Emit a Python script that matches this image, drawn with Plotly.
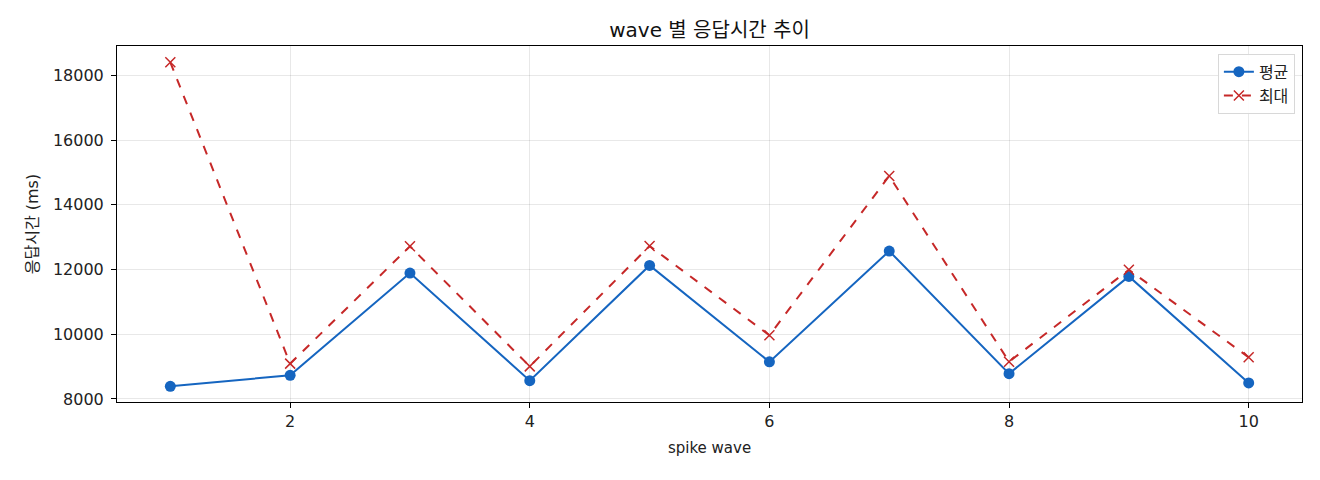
import plotly.graph_objects as go

waves = [1, 2, 3, 4, 5, 6, 7, 8, 9, 10]
avg_ms = [8390, 8730, 11890, 8565, 12125, 9145, 12570, 8780, 11785, 8495]
max_ms = [18400, 9090, 12715, 9005, 12725, 9965, 14890, 9150, 11990, 9285]
x_ticks = [2, 4, 6, 8, 10]
y_ticks = [8000, 10000, 12000, 14000, 16000, 18000]

# latin glyphs from DejaVu (wide, like the original), hangul falls back to Noto CJK
FONT = "DejaVu Sans, Noto Sans CJK KR"
BLUE = "#1565c0"
RED = "#c62828"

fig = go.Figure()

fig.add_trace(go.Scatter(
  x=waves, y=avg_ms, name="평균", mode="lines+markers",
  line=dict(color=BLUE, width=2),
  marker=dict(symbol="circle", size=11, color=BLUE),
))
fig.add_trace(go.Scatter(
  x=waves, y=max_ms, name="최대", mode="lines+markers",
  line=dict(color=RED, width=2, dash="dash"),
  marker=dict(symbol="x-thin", size=10, color=RED, line=dict(color=RED, width=1.5)),
))

axis_common = dict(
  showline=True, linecolor="black", linewidth=1, mirror=True,
  showgrid=True, gridcolor="rgba(0,0,0,0.09)", gridwidth=1,
  ticks="outside", ticklen=5, tickcolor="black",
  tickfont=dict(family=FONT, size=16, color="#222"),
  zeroline=False,
)

# page body has an 8px margin, so shift the plot box up/left by that much
fig.update_layout(
  width=1320, height=480,
  margin=dict(l=109, r=26, t=38, b=86),
  paper_bgcolor="white", plot_bgcolor="white",
  font=dict(family=FONT, color="#222"),
  title=dict(text="wave 별 응답시간 추이", x=0.5315, xanchor="center",
             y=0.955, yanchor="middle", font=dict(size=20, family=FONT, color="#111")),
  showlegend=True,
  legend=dict(x=0.994, y=0.978, xanchor="right", yanchor="top",
              bordercolor="#d8d8d8", borderwidth=1, bgcolor="rgba(255,255,255,0.9)",
              font=dict(size=16, family=FONT)),
  xaxis=dict(axis_common, range=[0.555, 10.445], tickvals=x_ticks,
             title=dict(text="spike wave", font=dict(size=15, family=FONT), standoff=12)),
  yaxis=dict(axis_common, range=[7905, 18905], tickvals=y_ticks, tickformat="d",
             ticklabelstandoff=4,
             title=dict(text="응답시간 (ms)", font=dict(size=16, family=FONT), standoff=10)),
)

fig.write_html("out.html")
